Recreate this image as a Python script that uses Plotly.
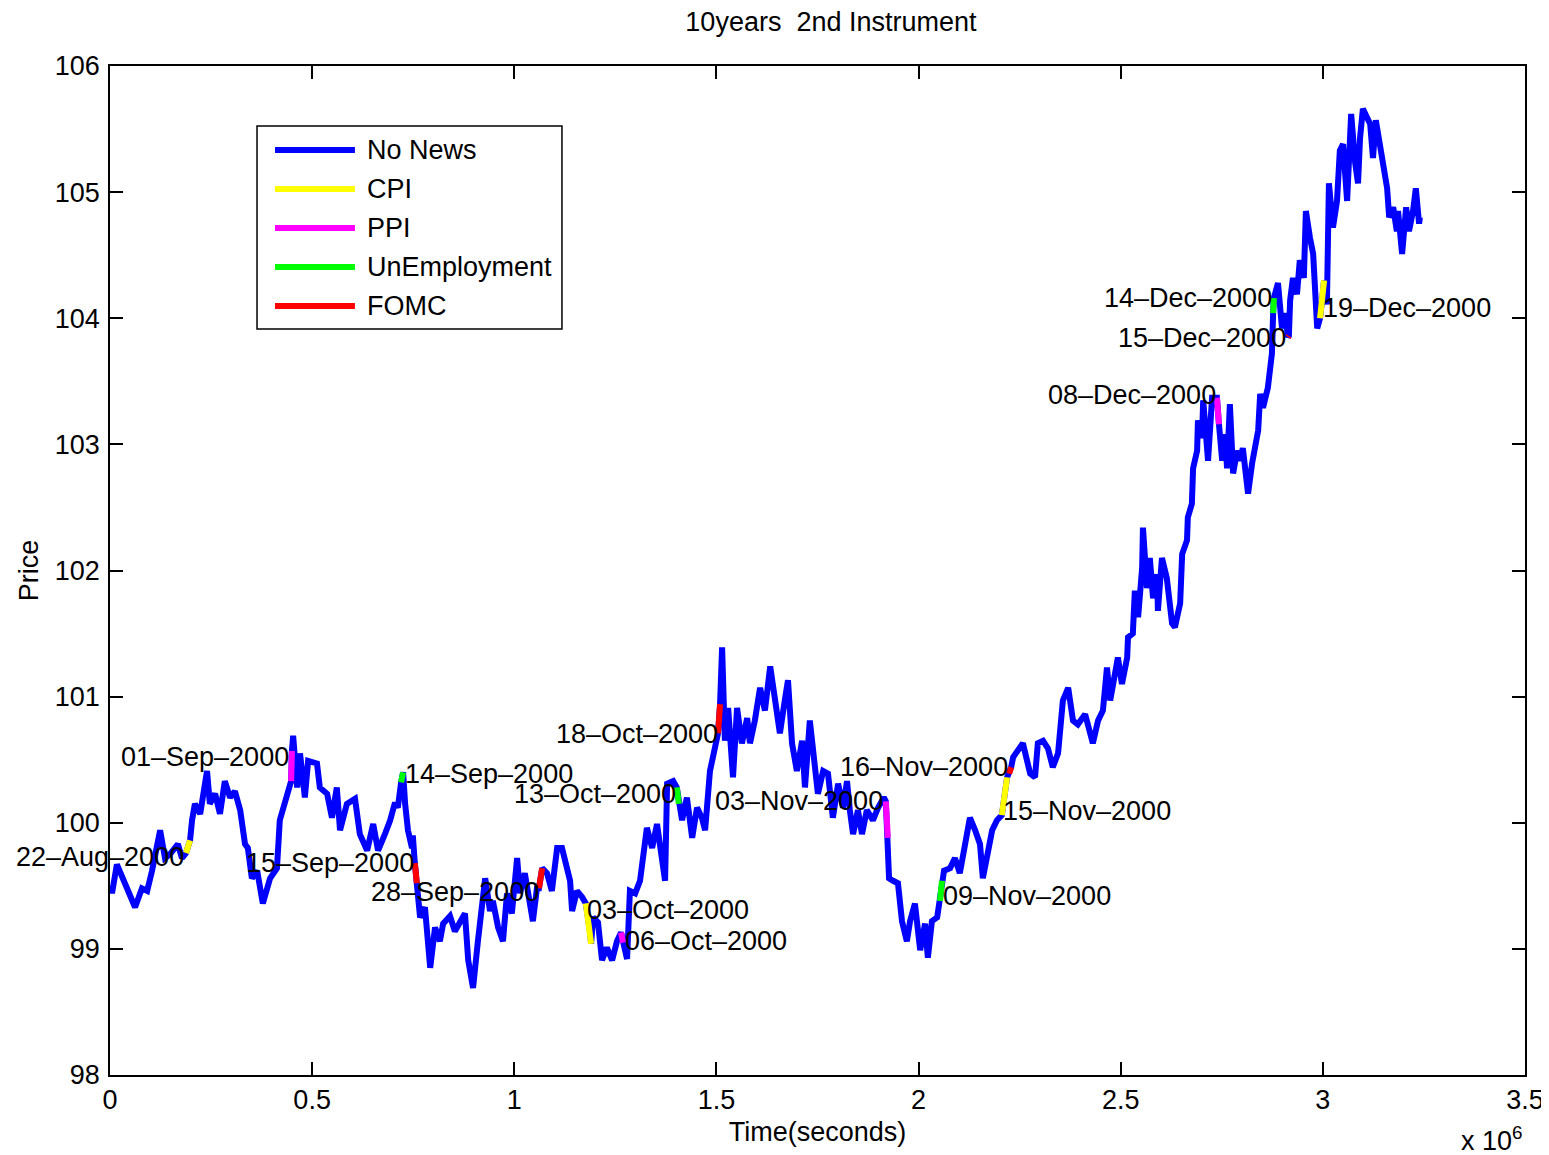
import plotly.graph_objects as go

# ---- data (time in thousands of seconds, price) ----
time_k = [
    2, 5, 17, 32, 62, 79, 92, 104, 124, 136,
    148, 168, 178, 188, 198, 203, 210, 223, 240, 247,
    260, 272, 284, 297, 309, 322, 334, 341, 351, 364,
    378, 396, 413, 420, 433, 445, 448, 450, 453, 463,
    470, 482, 490, 512, 519, 537, 549, 561, 569, 586,
    606, 618, 636, 651, 663, 680, 693, 705, 712, 720,
    725, 730, 737, 747, 749, 754, 759, 767, 779, 792,
    804, 816, 824, 841, 853, 866, 878, 886, 898, 910,
    928, 940, 947, 960, 972, 982, 994, 1007, 1014, 1026,
    1039, 1046, 1056, 1061, 1069, 1081, 1093, 1106, 1118, 1125,
    1138, 1143, 1155, 1168, 1177, 1187, 1190, 1195, 1207, 1217,
    1229, 1242, 1254, 1264, 1269, 1279, 1286, 1299, 1311, 1328,
    1341, 1353, 1365, 1373, 1378, 1393, 1402, 1407, 1415, 1427,
    1440, 1452, 1464, 1472, 1484, 1496, 1504, 1509, 1514, 1521,
    1529, 1541, 1551, 1563, 1576, 1583, 1595, 1608, 1620, 1633,
    1645, 1657, 1670, 1677, 1687, 1699, 1712, 1719, 1731, 1744,
    1751, 1764, 1776, 1788, 1801, 1813, 1823, 1830, 1838, 1850,
    1860, 1872, 1887, 1900, 1914, 1919, 1924, 1927, 1937, 1949,
    1959, 1971, 1979, 1991, 2004, 2016, 2023, 2033, 2046, 2053,
    2058, 2063, 2078, 2090, 2102, 2115, 2127, 2140, 2152, 2159,
    2172, 2182, 2194, 2206, 2219, 2224, 2229, 2234, 2246, 2258,
    2276, 2288, 2295, 2308, 2320, 2332, 2345, 2357, 2370, 2382,
    2394, 2412, 2431, 2444, 2456, 2466, 2474, 2486, 2493, 2503,
    2516, 2518, 2530, 2535, 2543, 2553, 2555, 2565, 2572, 2580,
    2590, 2592, 2602, 2614, 2627, 2634, 2647, 2652, 2664, 2666,
    2676, 2679, 2689, 2691, 2701, 2704, 2716, 2726, 2738, 2743,
    2751, 2758, 2763, 2770, 2778, 2788, 2795, 2802, 2815, 2825,
    2840, 2845, 2852, 2864, 2874, 2877, 2879, 2889, 2899, 2906,
    2914, 2916, 2919, 2926, 2936, 2943, 2953, 2958, 2968, 2976, 2986,
    2993, 2998, 3003, 3010, 3015, 3025, 3035, 3042, 3050, 3060,
    3062, 3070, 3080, 3087, 3092, 3099, 3117, 3124, 3131, 3139,
    3149, 3159, 3164, 3174, 3183, 3186, 3196, 3206, 3213, 3223,
    3230, 3238, 3240,
]

price = [
    99.50, 99.44, 99.67, 99.56, 99.33, 99.48, 99.46, 99.62, 99.94, 99.72,
    99.75, 99.83, 99.72, 99.76, 99.86, 100.02, 100.15, 100.07, 100.41, 100.15,
    100.23, 100.07, 100.33, 100.20, 100.25, 100.10, 99.83, 99.80, 99.56, 99.62,
    99.36, 99.56, 99.64, 100.02, 100.15, 100.28, 100.33, 100.57, 100.69, 100.28,
    100.55, 100.20, 100.49, 100.47, 100.28, 100.23, 100.04, 100.28, 99.94, 100.15,
    100.19, 99.91, 99.78, 99.99, 99.78, 99.91, 100.02, 100.16, 100.12, 100.32,
    100.40, 100.15, 99.94, 99.80, 99.90, 99.68, 99.52, 99.25, 99.33, 98.85,
    99.17, 99.06, 99.20, 99.26, 99.14, 99.22, 99.28, 98.91, 98.69, 99.06,
    99.56, 99.30, 99.38, 99.17, 99.06, 99.44, 99.28, 99.72, 99.44, 99.60,
    99.38, 99.22, 99.48, 99.48, 99.64, 99.60, 99.46, 99.80, 99.80, 99.70,
    99.54, 99.30, 99.46, 99.41, 99.36, 99.14, 99.04, 99.25, 99.21, 98.91,
    99.01, 98.91, 99.06, 99.13, 99.05, 98.92, 99.46, 99.44, 99.54, 99.96,
    99.80, 99.99, 99.72, 99.54, 100.31, 100.33, 100.28, 100.15, 100.02, 100.20,
    99.88, 100.12, 100.04, 99.94, 100.41, 100.59, 100.71, 100.94, 101.39, 100.65,
    100.91, 100.36, 100.91, 100.63, 100.83, 100.63, 100.81, 101.07, 100.89, 101.24,
    100.99, 100.71, 100.99, 101.13, 100.63, 100.41, 100.65, 100.28, 100.81, 100.47,
    100.23, 100.41, 100.39, 100.04, 100.31, 100.12, 100.33, 100.10, 99.91, 100.10,
    99.91, 100.10, 100.02, 100.12, 100.20, 100.17, 99.88, 99.56, 99.54, 99.52,
    99.22, 99.06, 99.22, 99.36, 98.99, 99.20, 98.93, 99.22, 99.25, 99.38,
    99.54, 99.62, 99.64, 99.72, 99.60, 99.83, 100.04, 99.94, 99.83, 99.56,
    99.80, 99.94, 100.02, 100.06, 100.36, 100.39, 100.44, 100.52, 100.57, 100.63,
    100.39, 100.36, 100.63, 100.65, 100.59, 100.44, 100.55, 100.97, 101.07, 100.81,
    100.78, 100.86, 100.63, 100.81, 100.89, 101.23, 100.97, 101.23, 101.31, 101.10,
    101.31, 101.47, 101.50, 101.84, 101.63, 102.02, 102.34, 101.86, 102.10, 101.78,
    101.97, 101.68, 102.10, 101.94, 101.58, 101.55, 101.74, 102.13, 102.24, 102.42,
    102.53, 102.81, 102.95, 103.19, 103.05, 103.35, 102.87, 103.37, 103.37, 103.16,
    102.87, 103.08, 102.81, 103.32, 102.77, 102.95, 102.87, 102.97, 102.61, 102.85,
    103.11, 103.40, 103.29, 103.45, 103.72, 104.04, 104.16, 104.28, 103.92, 104.04,
    103.85, 103.86, 104.14, 104.32, 104.19, 104.46, 104.32, 104.85, 104.64, 104.51, 103.92,
    104.00, 104.14, 104.30, 104.11, 105.07, 104.72, 104.93, 105.33, 105.38, 104.93,
    105.11, 105.62, 105.23, 105.07, 105.43, 105.66, 105.54, 105.27, 105.57, 105.43,
    105.19, 105.03, 104.80, 104.88, 104.69, 104.85, 104.51, 104.88, 104.69, 104.85,
    105.03, 104.75, 104.80,
]

time_s = [t * 1000 for t in time_k]
n = min(len(time_s), len(price))
time_s, price = time_s[:n], price[:n]

categories = ["No News", "CPI", "PPI", "UnEmployment", "FOMC"]
cat_colors = ["#0000FF", "#FFFF00", "#FF00FF", "#00FF00", "#FF0000"]

# news events: label, category, window start (s), window end (s)
event_labels = ["22\u2013Aug\u20132000", "01\u2013Sep\u20132000", "14\u2013Sep\u20132000",
                "15\u2013Sep\u20132000", "28\u2013Sep\u20132000", "03\u2013Oct\u20132000",
                "06\u2013Oct\u20132000", "13\u2013Oct\u20132000", "18\u2013Oct\u20132000",
                "03\u2013Nov\u20132000", "09\u2013Nov\u20132000", "15\u2013Nov\u20132000",
                "16\u2013Nov\u20132000", "08\u2013Dec\u20132000", "14\u2013Dec\u20132000",
                "15\u2013Dec\u20132000", "19\u2013Dec\u20132000"]
event_cats = ["CPI", "PPI", "UnEmployment", "FOMC", "FOMC", "CPI", "PPI", "UnEmployment",
              "FOMC", "PPI", "UnEmployment", "CPI", "FOMC", "PPI", "UnEmployment", "FOMC", "CPI"]
event_start = [186e3, 447e3, 719e3, 753e3, 1060e3, 1176e3, 1263e3, 1401e3, 1503e3,
               1918e3, 2052e3, 2205e3, 2223e3, 2737e3, 2876e3, 2913e3, 2992e3]
event_end = [200e3, 451e3, 726e3, 760e3, 1070e3, 1191e3, 1270e3, 1408e3, 1510e3,
             1925e3, 2059e3, 2220e3, 2230e3, 2744e3, 2880e3, 2917e3, 3004e3]

# label placement (layout): anchor x (s), y (price), side
label_x = [188e3, 448e3, 725e3, 757e3, 1066e3, 1175e3, 1269e3, 1405e3, 1509e3,
           1917e3, 2055e3, 2204e3, 2226e3, 2741e3, 2879e3, 2914e3, 2995e3]
label_y = [99.73, 100.52, 100.39, 99.68, 99.45, 99.31, 99.06, 100.23, 100.70,
           100.17, 99.42, 100.09, 100.44, 103.39, 104.16, 103.84, 104.08]
label_side = ["right", "right", "left", "right", "right", "left", "left", "right", "right",
              "right", "left", "left", "right", "right", "right", "right", "left"]

FONT = "Liberation Sans, Arial, Helvetica, sans-serif"
FS = 27
LW = 6

fig = go.Figure()
fig.add_trace(go.Scatter(x=time_s, y=price, mode="lines", name="No News",
                         line=dict(color=cat_colors[0], width=LW), showlegend=False))

for cat, col in zip(categories[1:], cat_colors[1:]):
    xs, ys = [], []
    for c, s, e in zip(event_cats, event_start, event_end):
        if c != cat:
            continue
        for t, p in zip(time_s, price):
            if s <= t <= e:
                xs.append(t)
                ys.append(p)
        xs.append(None)
        ys.append(None)
    fig.add_trace(go.Scatter(x=xs, y=ys, mode="lines", name=cat, connectgaps=False,
                             line=dict(color=col, width=LW), showlegend=False))

annotations = []
for lab, lx, ly, side in zip(event_labels, label_x, label_y, label_side):
    annotations.append(dict(x=lx, y=ly, xref="x", yref="y", text=lab, showarrow=False,
                            xanchor=side, yanchor="middle",
                            font=dict(family=FONT, size=FS, color="black")))

# legend drawn in MATLAB style
leg_rows = [0.9167, 0.8781, 0.8394, 0.8008, 0.7621]
shapes = [dict(type="rect", xref="paper", yref="paper", x0=0.1039, x1=0.3194,
               y0=0.7393, y1=0.9405, line=dict(color="black", width=1.5),
               fillcolor="white", layer="above")]
for cat, col, ry in zip(categories, cat_colors, leg_rows):
    shapes.append(dict(type="line", xref="paper", yref="paper", x0=0.1166, x1=0.1731,
                       y0=ry, y1=ry, line=dict(color=col, width=LW), layer="above"))
    annotations.append(dict(x=0.1802, y=ry, xref="paper", yref="paper", text=cat,
                            showarrow=False, xanchor="left", yanchor="middle",
                            font=dict(family=FONT, size=FS, color="black")))

annotations.append(dict(x=1.0, y=-0.082, xref="paper", yref="paper",
                        text="x 10<sup>6</sup>", showarrow=False, xanchor="right",
                        yanchor="bottom", font=dict(family=FONT, size=FS, color="black")))

axis_common = dict(showgrid=False, zeroline=False, showline=True, linecolor="black",
                   linewidth=1.5, mirror="ticks", ticks="inside", ticklen=13,
                   tickwidth=1.5, tickcolor="black", automargin=False,
                   tickfont=dict(family=FONT, size=FS, color="black"))

# page body has an 8px margin, so the figure is 8px smaller and offset
fig.update_layout(
    width=1541, height=1147,
    margin=dict(l=102, r=24, t=58, b=80),
    paper_bgcolor="white", plot_bgcolor="white",
    font=dict(family=FONT, size=FS, color="black"),
    title=dict(text="10years  2nd Instrument", x=0.5095, xref="paper", xanchor="center",
               y=1 - 14 / 1147, yref="container", yanchor="middle",
               font=dict(family=FONT, size=FS, color="black")),
    xaxis=dict(range=[0, 3.5e6], tickvals=[0, 0.5e6, 1e6, 1.5e6, 2e6, 2.5e6, 3e6, 3.5e6],
               ticktext=["0", "0.5", "1", "1.5", "2", "2.5", "3", "3.5"],
               title=dict(text="Time(seconds)", standoff=8,
                          font=dict(family=FONT, size=FS, color="black")),
               **axis_common),
    yaxis=dict(range=[98, 106], tickvals=[98, 99, 100, 101, 102, 103, 104, 105, 106],
               ticktext=["98", "99", "100", "101", "102", "103", "104", "105", "106"],
               ticklabelstandoff=3,
               title=dict(text="Price", standoff=8,
                          font=dict(family=FONT, size=FS, color="black")),
               **axis_common),
    annotations=annotations,
    shapes=shapes,
    showlegend=False,
)

fig.write_html("out.html")
